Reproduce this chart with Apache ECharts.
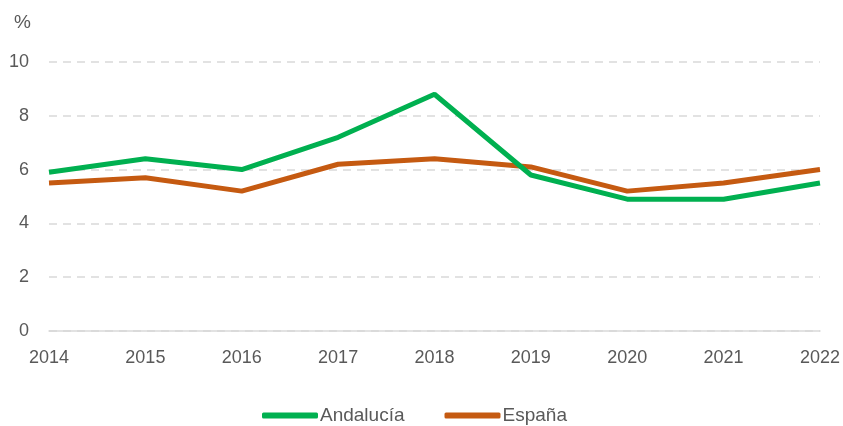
<!DOCTYPE html>
<html><head><meta charset="utf-8">
<script src="https://cdn.jsdelivr.net/npm/echarts@6/dist/echarts.min.js"></script>
<style>html,body{margin:0;padding:0;background:#fff}#c{width:843px;height:426px}</style>
</head><body><div id="c"></div>
<script>
const years = ['2014','2015','2016','2017','2018','2019','2020','2021','2022'];
const andalucia = [5.9, 6.4, 6.0, 7.2, 8.8, 5.8, 4.9, 4.9, 5.5];
const espana = [5.5, 5.7, 5.2, 6.2, 6.4, 6.1, 5.2, 5.5, 6.0];
const yTicks = [0, 2, 4, 6, 8, 10];
const FONT = '"Liberation Sans", sans-serif';
const chart = echarts.init(document.getElementById('c'));
chart.setOption({
  animation: false,
  textStyle: {fontFamily: FONT},
  grid: {left: 49, right: 23, top: 62, bottom: 95},
  legend: {
    top: 401, left: 257, itemWidth: 56, itemHeight: 6, itemGap: 40,
    icon: 'roundRect',
    textStyle: {fontFamily: FONT, fontSize: 19, color: '#595959', padding: [0,0,0,-3]},
    data: ['Andalucía', 'España']
  },
  xAxis: {
    type: 'category', data: years, boundaryGap: false,
    axisLine: {show: true, lineStyle: {color: '#d9d9d9', width: 1.5}},
    axisTick: {show: false},
    axisLabel: {fontFamily: FONT, fontSize: 18, color: '#595959', margin: 18}
  },
  yAxis: {
    type: 'value', min: 0, max: 10, interval: 2,
    name: '%', nameLocation: 'end', nameGap: 30,
    nameTextStyle: {fontFamily: FONT, fontSize: 19, color: '#595959', align: 'right', padding: [0, 18, 0, 0]},
    axisLine: {show: false}, axisTick: {show: false},
    axisLabel: {fontFamily: FONT, fontSize: 18, color: '#595959', margin: 20,
      formatter: v => yTicks.includes(v) ? String(v) : ''},
    splitLine: {lineStyle: {color: '#d9d9d9', type: [8, 6], width: 1.5}}
  },
  series: [
    {name: 'Andalucía', type: 'line', data: andalucia, symbol: 'none',
     lineStyle: {color: '#00B050', width: 5}, itemStyle: {color: '#00B050'}, z: 3},
    {name: 'España', type: 'line', data: espana, symbol: 'none',
     lineStyle: {color: '#C55A11', width: 5}, itemStyle: {color: '#C55A11'}, z: 2}
  ]
});
</script></body></html>
